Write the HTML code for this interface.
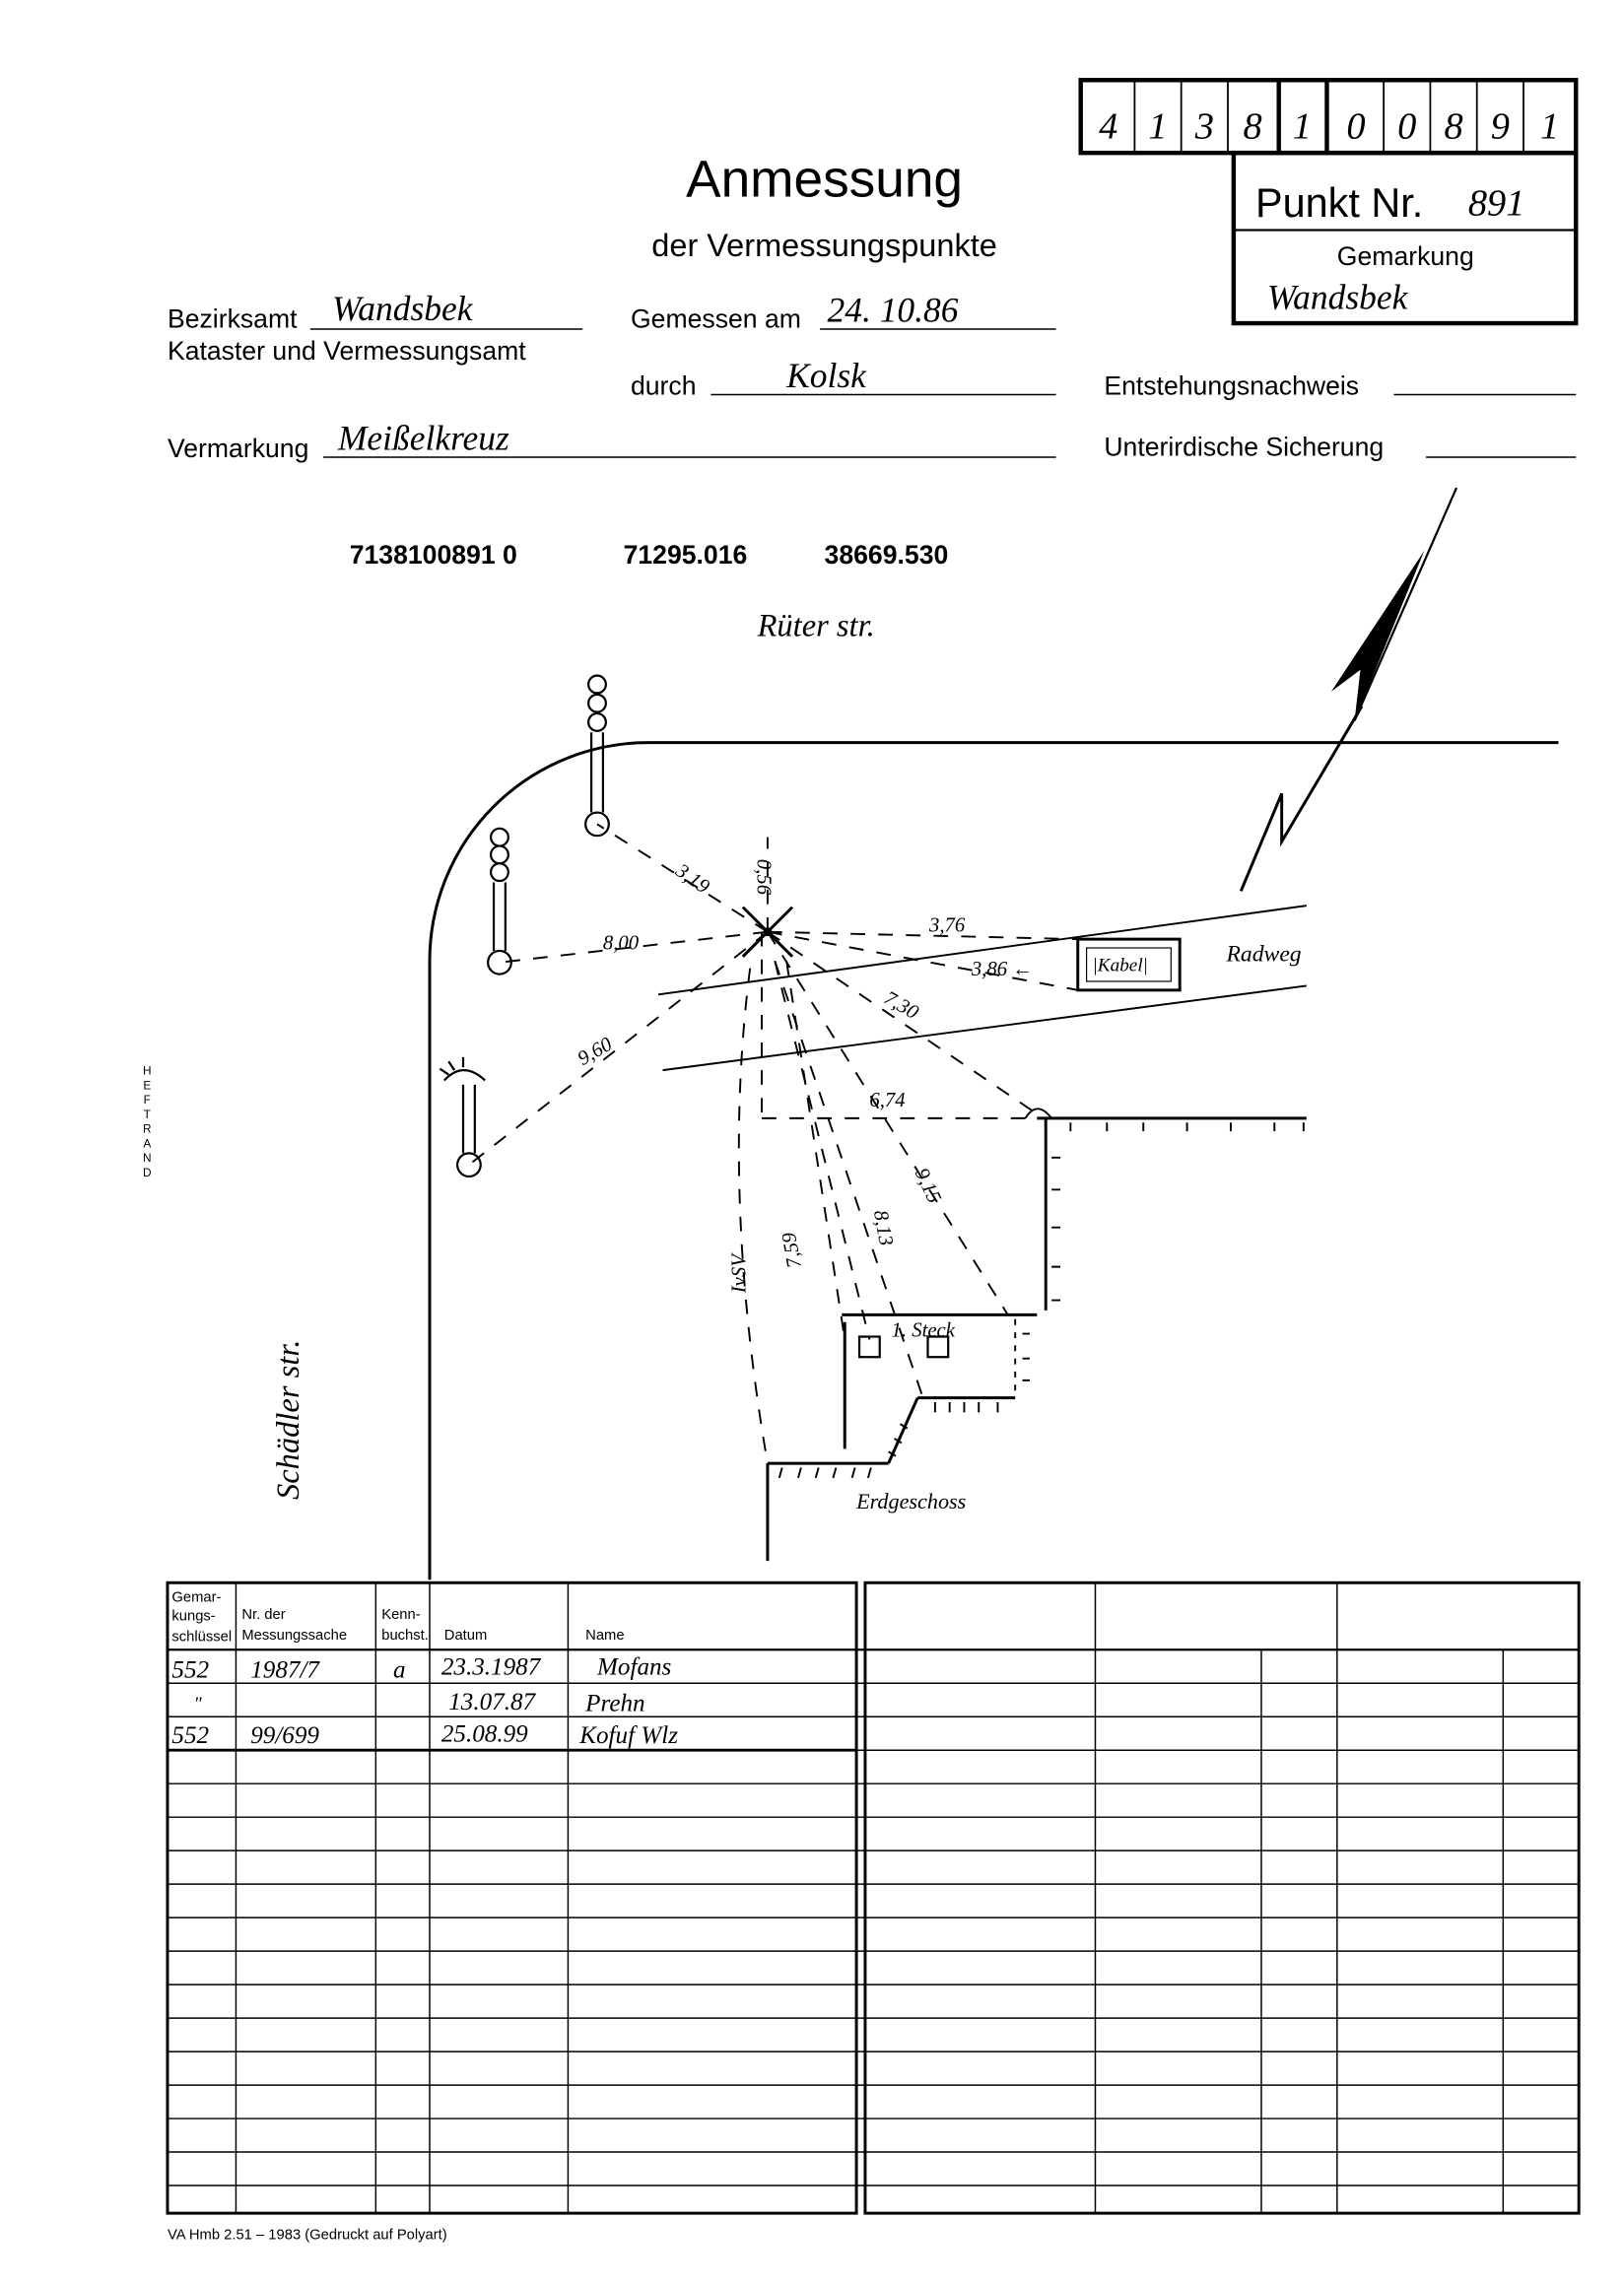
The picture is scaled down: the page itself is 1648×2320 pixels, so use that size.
<!DOCTYPE html>
<html><head><meta charset="utf-8"><style>
html,body{margin:0;padding:0;background:#fff;}
svg{display:block;}
text{font-family:"Liberation Sans",sans-serif;fill:#000;}
.h{font-family:"Liberation Serif",serif;font-style:italic;}
.n{font-family:"Liberation Sans Narrow","Liberation Sans",sans-serif;}
</style></head><body>
<svg width="1648" height="2320" viewBox="0 0 1115 1570" preserveAspectRatio="none" xmlns="http://www.w3.org/2000/svg">
<rect width="1115" height="1570" fill="#fff"/>
<g stroke="#000" fill="none">
<rect x="742" y="55" width="340" height="50" stroke-width="3"/>
<g stroke-width="1.2">
<line x1="779" y1="55" x2="779" y2="105"/><line x1="811" y1="55" x2="811" y2="105"/><line x1="843" y1="55" x2="843" y2="105"/>
<line x1="950" y1="55" x2="950" y2="105"/><line x1="982" y1="55" x2="982" y2="105"/><line x1="1014" y1="55" x2="1014" y2="105"/><line x1="1046" y1="55" x2="1046" y2="105"/>
</g>
<line x1="878" y1="55" x2="878" y2="105" stroke-width="3"/>
<line x1="911" y1="55" x2="911" y2="105" stroke-width="3"/>
<rect x="847" y="105" width="235" height="117" stroke-width="3"/>
<line x1="847" y1="158" x2="1082" y2="158" stroke-width="1.5"/>
</g>
<g class="h" font-size="26" text-anchor="middle">
<text x="761" y="95" class="h">4</text><text x="795" y="95" class="h">1</text><text x="827" y="95" class="h">3</text><text x="860" y="95" class="h">8</text><text x="894" y="95" class="h">1</text><text x="931" y="95" class="h">0</text><text x="966" y="95" class="h">0</text><text x="998" y="95" class="h">8</text><text x="1030" y="95" class="h">9</text><text x="1064" y="95" class="h">1</text>
</g>
<text x="862" y="149" font-size="28">Punkt Nr.</text>
<text x="1008" y="148" font-size="26" class="h">891</text>
<text x="965" y="182" font-size="18" text-anchor="middle">Gemarkung</text>
<text x="870" y="212" font-size="24" class="h">Wandsbek</text>

<text x="566" y="135" font-size="36" text-anchor="middle">Anmessung</text>
<text x="566" y="176" font-size="22" text-anchor="middle">der Vermessungspunkte</text>

<g font-size="18">
<text x="115" y="225">Bezirksamt</text>
<text x="115" y="247">Kataster und Vermessungsamt</text>
<text x="433" y="225">Gemessen am</text>
<text x="433" y="271">durch</text>
<text x="758" y="271">Entstehungsnachweis</text>
<text x="115" y="314">Vermarkung</text>
<text x="758" y="313">Unterirdische Sicherung</text>
</g>
<g stroke="#000" stroke-width="1">
<line x1="213" y1="226" x2="400" y2="226"/>
<line x1="563" y1="226" x2="725" y2="226"/>
<line x1="488" y1="271" x2="725" y2="271"/>
<line x1="957" y1="271" x2="1082" y2="271"/>
<line x1="222" y1="314" x2="725" y2="314"/>
<line x1="979" y1="314" x2="1082" y2="314"/>
</g>
<g class="h" font-size="24">
<text x="228" y="220" class="h">Wandsbek</text>
<text x="568" y="221" class="h">24. 10.86</text>
<text x="540" y="266" class="h">Kolsk</text>
<text x="232" y="309" class="h">Meißelkreuz</text>
<text x="520" y="437" class="h" font-size="22">Rüter str.</text>
</g>
<g font-size="18" font-weight="bold">
<text x="240" y="387">7138100891 0</text>
<text x="428" y="387">71295.016</text>
<text x="566" y="387">38669.530</text>
</g>

<g font-size="8" text-anchor="middle">
<text x="101" y="738">H</text><text x="101" y="748">E</text><text x="101" y="758">F</text><text x="101" y="768">T</text><text x="101" y="778">R</text><text x="101" y="788">A</text><text x="101" y="798">N</text><text x="101" y="808">D</text>
</g>

<g stroke="#000" fill="none" stroke-width="2">
<path d="M1070 510 L445 510 A150 150 0 0 0 295 660 L295 1085"/>
</g>
<text class="h" font-size="22" transform="translate(205,1030) rotate(-90)">Schädler str.</text>

<g stroke="#000" fill="none" stroke-width="1.5">
<line x1="1000" y1="335" x2="930" y2="495"/>
<polyline points="935,485 880,578 880,545 852,612" stroke-width="2"/>
</g>
<polygon points="978,378 914,475 934,460 930,495" fill="#000"/>

<g stroke="#000" fill="#fff" stroke-width="1.5">
<circle cx="410" cy="470" r="6"/><circle cx="410" cy="483" r="6"/><circle cx="410" cy="496" r="6"/>
<line x1="406" y1="503" x2="406" y2="558"/><line x1="414" y1="503" x2="414" y2="558"/>
<circle cx="410" cy="566" r="8"/>
<circle cx="343" cy="575" r="6"/><circle cx="343" cy="587" r="6"/><circle cx="343" cy="599" r="6"/>
<line x1="339" y1="606" x2="339" y2="653"/><line x1="347" y1="606" x2="347" y2="653"/>
<circle cx="343" cy="661" r="8"/>
<path d="M305 742 Q318 728 333 742" fill="none"/><path d="M308 738 l-6 -4 M312 735 l-4 -6 M318 733 l0 -7" fill="none"/>
<line x1="318" y1="745" x2="318" y2="792"/><line x1="326" y1="745" x2="326" y2="792"/>
<circle cx="322" cy="800" r="8"/>
</g>

<g stroke="#000" fill="none" stroke-width="1.3">
<line x1="452" y1="683" x2="897" y2="622"/>
<line x1="455" y1="735" x2="897" y2="677"/>
<rect x="740" y="645" width="70" height="35" stroke-width="2"/>
<rect x="746" y="651" width="58" height="23" stroke-width="0.8"/>
</g>
<text class="h" font-size="13" x="750" y="667">|Kabel|</text>
<text class="h" font-size="16" x="842" y="660">Radweg</text>

<g stroke="#000" fill="none" stroke-width="1.3" stroke-dasharray="10 9">
<line x1="527" y1="640" x2="410" y2="566"/>
<line x1="527" y1="640" x2="343" y2="661"/>
<line x1="527" y1="640" x2="322" y2="800"/>
<line x1="527" y1="640" x2="527" y2="575"/>
<line x1="527" y1="640" x2="740" y2="645"/>
<line x1="527" y1="640" x2="740" y2="680"/>
<line x1="527" y1="640" x2="712" y2="765"/>
<line x1="523" y1="768" x2="712" y2="768"/>
<line x1="523" y1="640" x2="523" y2="768"/>
<line x1="527" y1="640" x2="692" y2="903"/>
<line x1="532" y1="660" x2="597" y2="920"/>
<line x1="532" y1="660" x2="633" y2="958"/>
<line x1="540" y1="660" x2="580" y2="920"/>
<path d="M515 665 Q495 820 527 1005"/>
</g>
<g stroke="#000" stroke-width="2">
<line x1="510" y1="623" x2="544" y2="657"/><line x1="544" y1="623" x2="510" y2="657"/>
</g>
<circle cx="527" cy="640" r="3" fill="#000"/>
<g class="h" font-size="14">
<text x="463" y="600" transform="rotate(35 463 600)" class="h">3,19</text>
<text x="520" y="590" transform="rotate(90 520 590)" class="h">0,56</text>
<text x="414" y="652" class="h">8,00</text>
<text x="638" y="640" class="h">3,76</text>
<text x="667" y="670" class="h">3,86 ←</text>
<text x="606" y="688" transform="rotate(30 606 688)" class="h">7,30</text>
<text x="400" y="732" transform="rotate(-30 400 732)" class="h">9,60</text>
<text x="597" y="760" class="h">6,74</text>
<text x="628" y="805" transform="rotate(65 628 805)" class="h">9,15</text>
<text x="512" y="888" transform="rotate(-90 512 888)" class="h">IvSV</text>
<text x="550" y="870" transform="rotate(-100 550 870)" class="h">7,59</text>
<text x="600" y="832" transform="rotate(80 600 832)" class="h">8,13</text>
</g>

<g stroke="#000" fill="none" stroke-width="2">
<line x1="712" y1="768" x2="897" y2="768"/>
<line x1="718" y1="768" x2="718" y2="900"/>
<line x1="578" y1="903" x2="712" y2="903"/>
<line x1="580" y1="908" x2="580" y2="995"/>
<line x1="630" y1="960" x2="697" y2="960"/>
<line x1="630" y1="960" x2="610" y2="1005"/>
<line x1="527" y1="1005" x2="610" y2="1005"/>
<line x1="527" y1="1005" x2="527" y2="1072"/>
<path d="M704 768 Q712 755 722 768" stroke-width="1.3"/>
<rect x="590" y="918" width="14" height="14" stroke-width="1.5"/>
<rect x="637" y="918" width="14" height="14" stroke-width="1.5"/>
</g>
<g stroke="#000" stroke-width="1.3">
<path d="M735 771v6M760 771v6M785 771v6M815 771v6M845 771v6M875 771v6M895 771v6"/>
<path d="M722 795h6M722 817h6M722 843h6M722 870h6M722 893h6"/>
<path d="M697 906v54" stroke-dasharray="4 5"/>
<path d="M702 916h5M702 933h5M702 948h5"/>
<path d="M642 963v7M652 963v7M662 963v7M672 963v7M685 963v7"/>
<path d="M618 978l5 3M614 988l5 3M610 997l5 3"/>
<path d="M537 1008l-2 7M550 1008l-2 7M562 1008l-2 7M574 1008l-2 7M587 1008l-2 7M598 1008l-2 7"/>
</g>
<text class="h" font-size="14" x="612" y="918">1. Steck</text>
<text class="h" font-size="15" x="588" y="1036">Erdgeschoss</text>

<g stroke="#000" fill="none">
<rect x="115" y="1087" width="473" height="433" stroke-width="2"/>
<rect x="594" y="1087" width="490" height="433" stroke-width="2"/>
<g stroke-width="1">
<line x1="162" y1="1087" x2="162" y2="1520"/><line x1="258" y1="1087" x2="258" y2="1520"/><line x1="295" y1="1087" x2="295" y2="1520"/><line x1="390" y1="1087" x2="390" y2="1520"/>
<line x1="752" y1="1087" x2="752" y2="1520"/><line x1="918" y1="1087" x2="918" y2="1520"/>
<line x1="866" y1="1133" x2="866" y2="1520"/><line x1="1032" y1="1133" x2="1032" y2="1520"/>
</g>
<g stroke-width="1.5">
<line x1="115" y1="1133" x2="1084" y2="1133"/>
</g>
<g stroke-width="1">
<path d="M115 1156H1084M115 1179H1084M115 1202H1084M115 1225H1084M115 1248H1084M115 1271H1084M115 1294H1084M115 1317H1084M115 1340H1084M115 1363H1084M115 1386H1084M115 1409H1084M115 1432H1084M115 1455H1084M115 1478H1084M115 1501H1084"/>
</g>
<line x1="115" y1="1202" x2="588" y2="1202" stroke-width="2"/>
</g>
<g class="n" font-size="10">
<text x="118" y="1100">Gemar-</text><text x="118" y="1113">kungs-</text><text x="118" y="1127">schlüssel</text>
<text x="166" y="1112">Nr. der</text><text x="166" y="1126">Messungssache</text>
<text x="262" y="1112">Kenn-</text><text x="262" y="1126">buchst.</text>
<text x="305" y="1126">Datum</text>
<text x="402" y="1126">Name</text>
</g>
<g class="h" font-size="17">
<text x="118" y="1152" class="h">552</text><text x="172" y="1152" class="h">1987/7</text><text x="270" y="1152" class="h">a</text><text x="303" y="1150" class="h">23.3.1987</text><text x="410" y="1150" class="h">Mofans</text>
<text x="133" y="1174" class="h" font-size="13">"</text><text x="308" y="1174" class="h">13.07.87</text><text x="402" y="1175" class="h">Prehn</text>
<text x="118" y="1197" class="h">552</text><text x="172" y="1197" class="h">99/699</text><text x="303" y="1196" class="h">25.08.99</text><text x="398" y="1197" class="h">Kofuf   Wlz</text>
</g>
<text x="115" y="1538" font-size="10">VA Hmb 2.51 – 1983 (Gedruckt auf Polyart)</text>
</svg>
</body></html>
